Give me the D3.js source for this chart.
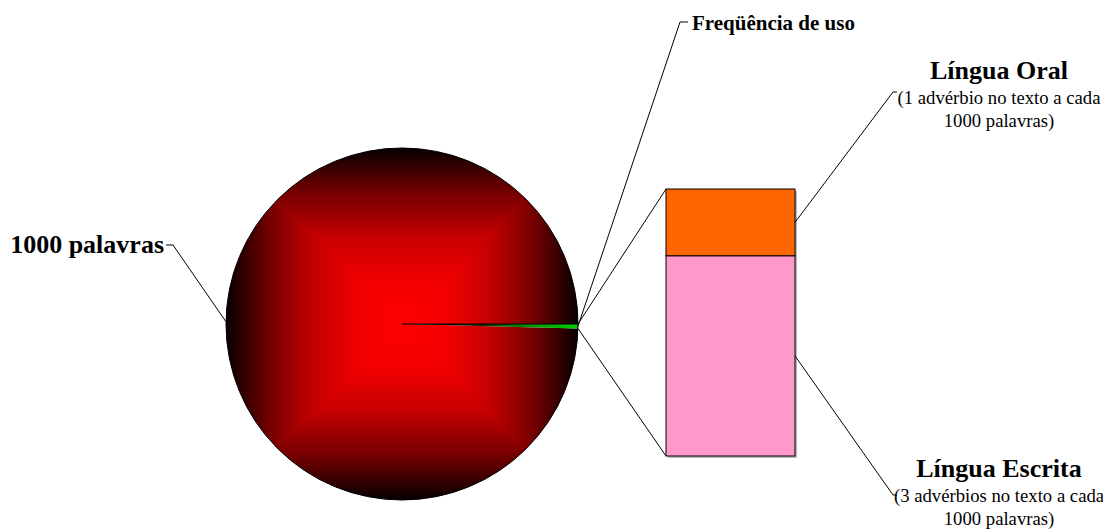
<!DOCTYPE html>
<html>
<head>
<meta charset="utf-8">
<script src="https://cdn.jsdelivr.net/npm/d3@7"></script>
<style>
  body { margin: 0; background: #fff; }
  svg { display: block; font-family: "Liberation Serif", "Times New Roman", serif; }
</style>
</head>
<body>
<div id="chart"></div>
<script>
let width = 1103,
    height = 531;

// pie: the small slice holds the sum of the bar
const pieLabels = ["Freqüência de uso", "1000 palavras"];
const pieValues = [4, 1000];

// bar (bottom to top)
const barLabels = ["Língua Escrita", "Língua Oral"];
const barValues = [3, 1];
const barNotes = [
  ["(3 advérbios no texto a cada", "1000 palavras)"],
  ["(1 advérbio no texto a cada", "1000 palavras)"]
];
const barColors = ["#ff99cc", "#ff6600"];

const cx = 402, cy = 324, R = 176;

const svg = d3.select("#chart")
    .append("svg")
    .attr("width", width)
    .attr("height", height)
    .attr("viewBox", [0, 0, width, height]);

const defs = svg.append("defs");

// rectangular "from centre" gradient -> 4 triangles each with a linear gradient
const redStops = [[0, "#ff0000"], [0.25, "#f20000"], [0.5, "#c40000"], [0.75, "#740000"], [1, "#050000"]];
const sides = [
  { id: "gR", x2: cx + R, y2: cy, pts: [[cx, cy], [cx + R, cy - R], [cx + R, cy + R]] },
  { id: "gL", x2: cx - R, y2: cy, pts: [[cx, cy], [cx - R, cy - R], [cx - R, cy + R]] },
  { id: "gT", x2: cx, y2: cy - R, pts: [[cx, cy], [cx - R, cy - R], [cx + R, cy - R]] },
  { id: "gB", x2: cx, y2: cy + R, pts: [[cx, cy], [cx - R, cy + R], [cx + R, cy + R]] }
];
sides.forEach(s => {
  const g = defs.append("linearGradient")
      .attr("id", s.id)
      .attr("gradientUnits", "userSpaceOnUse")
      .attr("x1", cx).attr("y1", cy)
      .attr("x2", s.x2).attr("y2", s.y2);
  redStops.forEach(st => g.append("stop").attr("offset", st[0]).attr("stop-color", st[1]));
});

// green slice is drawn in the translated (centre) space
const gGreen = defs.append("linearGradient")
    .attr("id", "gGreen")
    .attr("gradientUnits", "userSpaceOnUse")
    .attr("x1", 0).attr("y1", 0)
    .attr("x2", R).attr("y2", 0);
gGreen.append("stop").attr("offset", 0).attr("stop-color", "#000000");
gGreen.append("stop").attr("offset", 0.4).attr("stop-color", "#001a00");
gGreen.append("stop").attr("offset", 0.7).attr("stop-color", "#009000");
gGreen.append("stop").attr("offset", 1).attr("stop-color", "#00d000");

const pie = d3.pie().sort(null)
    .startAngle(Math.PI / 2)
    .endAngle(Math.PI / 2 + 2 * Math.PI);
const arcs = pie(pieValues);
const arc = d3.arc().innerRadius(0).outerRadius(R);

defs.append("clipPath").attr("id", "bigClip")
  .append("path")
    .attr("transform", `translate(${cx},${cy})`)
    .attr("d", arc(arcs[1]));

const pieG = svg.append("g");

pieG.append("g")
    .attr("clip-path", "url(#bigClip)")
  .selectAll("polygon")
  .data(sides)
  .join("polygon")
    .attr("points", d => d.pts.map(p => p.join(",")).join(" "))
    .attr("fill", d => `url(#${d.id})`)
    .attr("stroke", d => `url(#${d.id})`)
    .attr("stroke-width", 1);

pieG.append("path")
    .attr("transform", `translate(${cx},${cy})`)
    .attr("d", arc(arcs[0]))
    .attr("fill", "url(#gGreen)");

const a0 = arcs[0].startAngle, a1 = arcs[0].endAngle;
const pt = a => [cx + R * Math.sin(a), cy - R * Math.cos(a)];

pieG.append("circle")
    .attr("cx", cx).attr("cy", cy).attr("r", R)
    .attr("fill", "none")
    .attr("stroke", "#000")
    .attr("stroke-width", 1);
pieG.append("path")
    .attr("d", d3.line()([[cx, cy], pt(a0)]))
    .attr("stroke", "#000")
    .attr("stroke-width", 1.2);

// bar
const barX0 = 666, barX1 = 795;
const y = d3.scaleLinear()
    .domain([0, d3.sum(barValues)])
    .range([456, 189]);

let acc = 0;
const stack = barValues.map((v, i) => {
  const s = { label: barLabels[i], y0: acc, y1: acc + v, color: barColors[i], notes: barNotes[i] };
  acc += v;
  return s;
});

svg.append("rect")     // shadow
    .attr("x", barX0 + 2).attr("y", y(acc) + 2)
    .attr("width", barX1 - barX0).attr("height", y(0) - y(acc))
    .attr("fill", "#b8b8b8");

svg.append("g")
  .selectAll("rect")
  .data(stack)
  .join("rect")
    .attr("x", barX0)
    .attr("y", d => y(d.y1))
    .attr("width", barX1 - barX0)
    .attr("height", d => y(d.y0) - y(d.y1))
    .attr("fill", d => d.color)
    .attr("stroke", "#000")
    .attr("stroke-width", 1);

// connector lines pie -> bar
const lines = svg.append("g").attr("fill", "none").attr("stroke", "#000").attr("stroke-width", 1);
lines.append("path").attr("d", d3.line()([pt(a0), [barX0, y(acc)]]));
lines.append("path").attr("d", d3.line()([pt(a1), [barX0, y(0)]]));

// data labels with leader lines
const big = arcs[1], small = arcs[0];
const pBig = pt((big.startAngle + big.endAngle) / 2);
const pSmall = pt((small.startAngle + small.endAngle) / 2);

lines.append("path").attr("d", d3.line()([pBig, [173, 245], [166, 245]]));
svg.append("text")
    .attr("x", 164).attr("y", 253)
    .attr("text-anchor", "end")
    .attr("font-size", 26).attr("font-weight", "bold")
    .text(pieLabels[1]);

lines.append("path").attr("d", d3.line()([pSmall, [680, 22], [688, 22]]));
svg.append("text")
    .attr("x", 692).attr("y", 30)
    .attr("font-size", 21).attr("font-weight", "bold")
    .text(pieLabels[0]);

const labelPos = [
  { lead: [[893, 495], [897, 495]], base: 477 },
  { lead: [[893, 92], [897, 92]], base: 79 }
];
stack.forEach((d, i) => {
  const mid = [barX1, y((d.y0 + d.y1) / 2)];
  lines.append("path").attr("d", d3.line()([mid, ...labelPos[i].lead]));
  const t = svg.append("text").attr("text-anchor", "middle");
  t.append("tspan")
      .attr("x", 999).attr("y", labelPos[i].base)
      .attr("font-size", 26).attr("font-weight", "bold")
      .text(d.label);
  d.notes.forEach((n, k) => {
    t.append("tspan")
        .attr("x", 999).attr("y", labelPos[i].base + 25 + k * 23)
        .attr("font-size", 18.7)
        .text(n);
  });
});
</script>
</body>
</html>
